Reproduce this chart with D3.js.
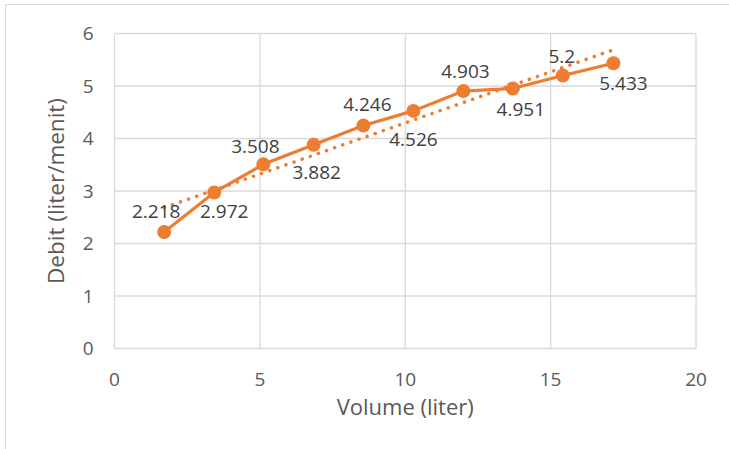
<!DOCTYPE html>
<html><head><meta charset="utf-8">
<script src="https://cdn.jsdelivr.net/npm/d3@7"></script>
<style>body{margin:0;background:#fff}svg{display:block;font-family:"Open Sans",sans-serif}</style>
</head><body><svg id="c" width="729" height="449"></svg>
<script>
const volume = [1.71, 3.43, 5.12, 6.85, 8.56, 10.28, 12.0, 13.7, 15.42, 17.16];
const debit = [2.218, 2.972, 3.508, 3.882, 4.246, 4.526, 4.903, 4.951, 5.2, 5.433];
const xTicks = [0, 5, 10, 15, 20];
const yTicks = [0, 1, 2, 3, 4, 5, 6];
// label placement: [dx, dy] relative to point
const labelOffsets = [[-8,-21],[10,19],[-8,-18],[3,28],[4,-21],[0,28],[2,-20],[8,21],[-1,-19],[10,20]];

const svg = d3.select("#c");
const W = 729, H = 449;
const x = d3.scaleLinear().domain([0,20]).range([114.5, 696]);
const y = d3.scaleLinear().domain([0,6]).range([348.5, 33.5]);

// outer border
svg.append("rect").attr("x",5.5).attr("y",4.5).attr("width",W+10).attr("height",H+10)
  .attr("fill","none").attr("stroke","#d9d9d9").attr("stroke-width",1);

// grid
svg.append("g").selectAll("line").data(yTicks).join("line")
  .attr("x1",x(0)).attr("x2",x(20)).attr("y1",d=>y(d)).attr("y2",d=>y(d))
  .attr("stroke","#d9d9d9").attr("stroke-width",1.3);
svg.append("g").selectAll("line").data(xTicks).join("line")
  .attr("y1",y(0)).attr("y2",y(6)).attr("x1",d=>x(d)).attr("x2",d=>x(d))
  .attr("stroke","#d9d9d9").attr("stroke-width",1.3);

// tick labels
svg.append("g").selectAll("text").data(yTicks).join("text")
  .attr("x",x(0)-21).attr("y",d=>y(d)).attr("dy","0.35em").attr("text-anchor","end")
  .attr("font-size",19).attr("fill","#595959").text(d=>d);
svg.append("g").selectAll("text").data(xTicks).join("text")
  .attr("x",d=>x(d)).attr("y",y(0)+37).attr("text-anchor","middle")
  .attr("font-size",19).attr("fill","#595959").text(d=>d);

// axis titles
svg.append("text").attr("x",(x(0)+x(20))/2).attr("y",415).attr("text-anchor","middle")
  .attr("font-size",22).attr("fill","#595959").text("Volume (liter)");
svg.append("text").attr("transform",`translate(64,${(y(0)+y(6))/2}) rotate(-90)`)
  .attr("text-anchor","middle").attr("font-size",22.5).attr("fill","#595959").text("Debit (liter/menit)");

const data = volume.map((v,i)=>({x:v,y:debit[i],i}));
const orange = "#ED7D31";

// linear trendline (least squares)
const mx = d3.mean(volume), my = d3.mean(debit);
const slope = d3.sum(data,d=>(d.x-mx)*(d.y-my))/d3.sum(data,d=>(d.x-mx)**2);
const icpt = my - slope*mx;
const x0 = d3.min(volume), x1 = d3.max(volume);
svg.append("line").attr("x1",x(x0)).attr("y1",y(icpt+slope*x0))
  .attr("x2",x(x1)).attr("y2",y(icpt+slope*x1))
  .attr("stroke",orange).attr("stroke-width",3.5).attr("stroke-linecap","round")
  .attr("stroke-dasharray","0.1,8.5");

// series
svg.append("path").datum(data)
  .attr("d",d3.line().x(d=>x(d.x)).y(d=>y(d.y)))
  .attr("fill","none").attr("stroke",orange).attr("stroke-width",3.2).attr("stroke-linejoin","round");
svg.append("g").selectAll("circle").data(data).join("circle")
  .attr("cx",d=>x(d.x)).attr("cy",d=>y(d.y)).attr("r",7).attr("fill",orange);

// data labels
svg.append("g").selectAll("text").data(data).join("text")
  .attr("x",d=>x(d.x)+labelOffsets[d.i][0]).attr("y",d=>y(d.y)+labelOffsets[d.i][1])
  .attr("dy","0.35em").attr("text-anchor","middle").attr("font-size",19).attr("fill","#404040")
  .text(d=>d.y);
</script></body></html>
